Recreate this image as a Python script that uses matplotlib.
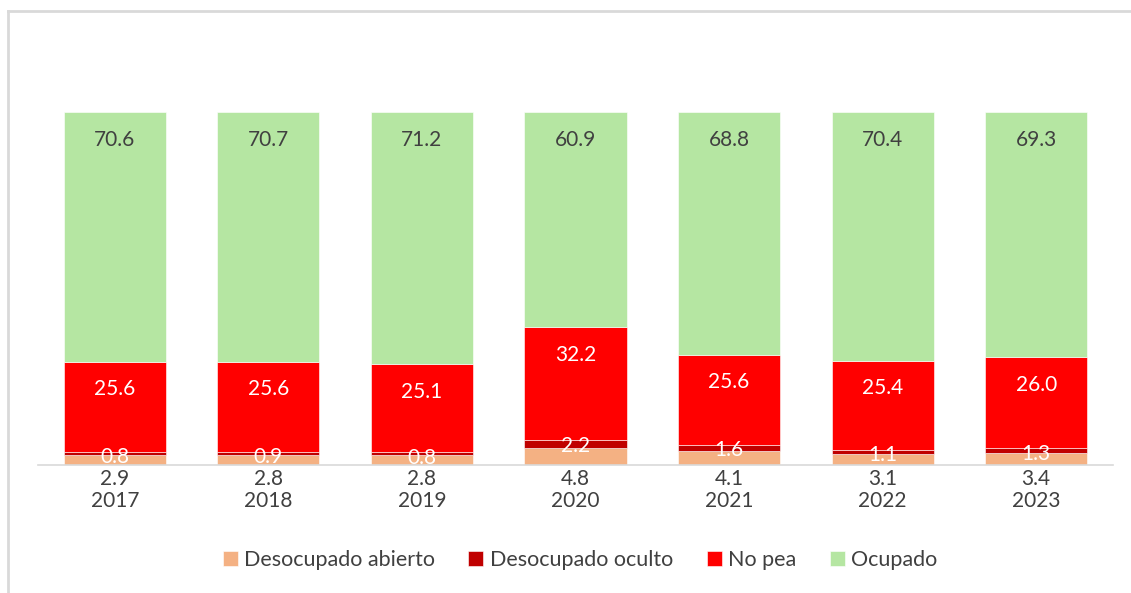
import matplotlib.pyplot as plt
from matplotlib.lines import Line2D

years = ['2017', '2018', '2019', '2020', '2021', '2022', '2023']
desoc_abierto = [2.9, 2.8, 2.8, 4.8, 4.1, 3.1, 3.4]
desoc_oculto = [0.8, 0.9, 0.8, 2.2, 1.6, 1.1, 1.3]
no_pea = [25.6, 25.6, 25.1, 32.2, 25.6, 25.4, 26.0]
ocupado = [70.6, 70.7, 71.2, 60.9, 68.8, 70.4, 69.3]

series = [
    ('Desocupado abierto', desoc_abierto, '#F4B183'),
    ('Desocupado oculto', desoc_oculto, '#C00000'),
    ('No pea', no_pea, '#FF0000'),
    ('Ocupado', ocupado, '#B5E6A2'),
]

plt.rcParams['font.family'] = ['Lato', 'DejaVu Sans']
txt = '#404040'

W, H = 1131, 593
fig = plt.figure(figsize=(W / 100, H / 100), dpi=100)
ax = fig.add_axes([38 / W, (H - 465) / H, 1075 / W, 353 / H])

x = list(range(len(years)))
bottom = [0.0] * len(years)
for name, vals, color in series:
    ax.bar(x, vals, width=0.665, bottom=bottom, color=color, label=name,
           edgecolor='white', linewidth=0.4)
    for i, v in enumerate(vals):
        top = bottom[i] + v
        if name == 'Desocupado abierto':
            # etiqueta debajo del eje, como en el original
            ax.text(i, -3.9, f'{v:.1f}', ha='center', va='center',
                    fontsize=15, color=txt, clip_on=False)
        elif name == 'Desocupado oculto':
            ax.text(i, top - 1.5, f'{v:.1f}', ha='center',
                    va='center', fontsize=15, color='white')
        elif name == 'No pea':
            ax.text(i, top - 7.9, f'{v:.1f}', ha='center',
                    va='center', fontsize=15, color='white')
        else:
            ax.text(i, top - 7.9, f'{v:.1f}', ha='center',
                    va='center', fontsize=15, color=txt)
    bottom = [b + v for b, v in zip(bottom, vals)]

ax.set_xlim(-0.5, len(years) - 0.5)
ax.set_ylim(0, 100)
ax.set_yticks([])
ax.set_xticks(x)
ax.set_xticklabels(years, fontsize=15, color=txt)
ax.tick_params(axis='x', length=0, pad=19)
for s in ['top', 'right', 'left']:
    ax.spines[s].set_visible(False)
ax.spines['bottom'].set_color('#D9D9D9')
ax.spines['bottom'].set_linewidth(1.2)

handles, labels = ax.get_legend_handles_labels()
fig.legend(handles, labels, loc='center', bbox_to_anchor=(580 / W, (H - 560) / H),
           ncol=4, frameon=False, fontsize=15.5, labelcolor=txt,
           handlelength=0.7, handleheight=0.7, handletextpad=0.3,
           columnspacing=1.55)

# borde del área del gráfico (sólo se ve arriba y a la izquierda)
fig.add_artist(Line2D([8 / W, 8 / W], [0, (H - 11) / H], color='#D9D9D9', lw=2))
fig.add_artist(Line2D([8 / W, 1], [(H - 11) / H, (H - 11) / H], color='#D9D9D9', lw=2))

fig.savefig('out.png', dpi=100)
